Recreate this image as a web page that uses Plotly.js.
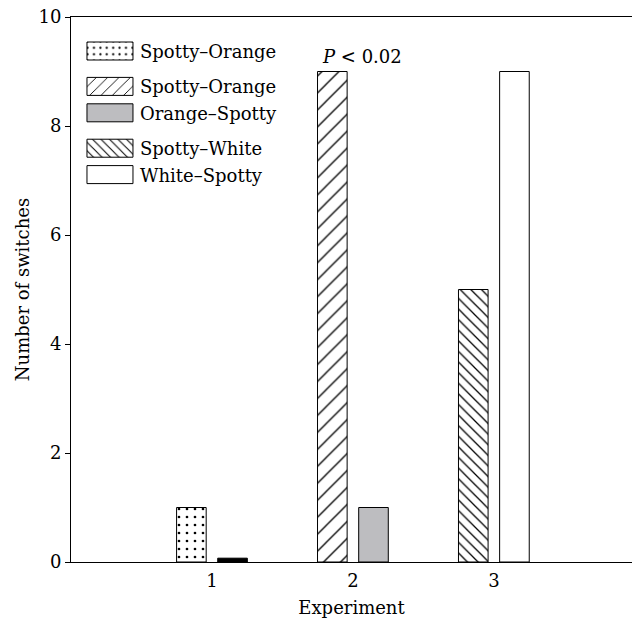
<!DOCTYPE html>
<html>
<head>
<meta charset="utf-8">
<script src="https://cdn.plot.ly/plotly-3.0.1.min.js"></script>
<style>
  html, body { margin: 0; padding: 0; background: #fff; }
  #chart { width: 632px; height: 623px; }
</style>
</head>
<body>
<div id="chart"></div>
<script>
// ---- data ----
const experiments = [1, 2, 3];
const tickLabels = ['1', '2', '3'];
const leftNames = ['Spotty–Orange', 'Spotty–Orange', 'Spotty–White'];
const leftValues = [1, 9, 5];
const rightNames = ['Orange–Spotty', 'Orange–Spotty', 'White–Spotty'];
const rightValues = [0.07, 1, 9];
const annotationText = '<i>P</i> &lt; 0.02';

// ---- styles ----
const FONT = 'DejaVu Serif, Liberation Serif, serif';
const FS = 18;
const BAR_W = 0.21;
const LEFT_OFF = -0.251;
const RIGHT_OFF = 0.041;
const lineStyle = { color: '#000', width: 1 };

function bar(x, y, name, offset, pattern, color, group, rank, showlegend) {
  return {
    type: 'bar', x: [x], y: [y], name: name,
    width: BAR_W, offset: offset,
    legendgroup: group, legendrank: rank, showlegend: showlegend,
    marker: { color: color, line: lineStyle, pattern: pattern },
    hoverinfo: 'none'
  };
}

const dots = { shape: '.', size: 8, solidity: 0.09, fgcolor: '#000', fgopacity: 1, bgcolor: '#fff', fillmode: 'overlay' };
const fwd = { shape: '/', size: 12, solidity: 0.11, fgcolor: '#000', fgopacity: 1, bgcolor: '#fff', fillmode: 'overlay' };
const back = { shape: '\\', size: 7.5, solidity: 0.17, fgcolor: '#000', fgopacity: 1, bgcolor: '#fff', fillmode: 'overlay' };
const none = { shape: '' };

const data = [
  bar(experiments[0], leftValues[0], leftNames[0], LEFT_OFF, dots, '#fff', 'g1', 1, true),
  bar(experiments[1], leftValues[1], leftNames[1], LEFT_OFF, fwd, '#fff', 'g2', 2, true),
  bar(experiments[1], rightValues[1], rightNames[1], RIGHT_OFF, none, '#bdbdc0', 'g2', 3, true),
  bar(experiments[2], leftValues[2], leftNames[2], LEFT_OFF, back, '#fff', 'g3', 4, true),
  bar(experiments[2], rightValues[2], rightNames[2], RIGHT_OFF, none, '#fff', 'g3', 5, true),
  bar(experiments[0], rightValues[0], rightNames[0], RIGHT_OFF, none, '#000', 'g1', 6, false)
];

const layout = {
  width: 632, height: 623,
  margin: { l: 71, r: 0, t: 17, b: 61 },
  paper_bgcolor: '#fff', plot_bgcolor: '#fff',
  font: { family: FONT, size: FS, color: '#000' },
  showlegend: true,
  barmode: 'overlay',
  xaxis: {
    range: [0, 3.98],
    tickmode: 'array', tickvals: experiments, ticktext: tickLabels,
    ticks: '', ticklabelstandoff: 2,
    showline: true, mirror: true, linecolor: '#000', linewidth: 1,
    showgrid: false, zeroline: false,
    tickfont: { family: FONT, size: FS },
    title: { text: 'Experiment', font: { family: FONT, size: FS }, standoff: 11 }
  },
  yaxis: {
    range: [0, 10],
    tickvals: [0, 2, 4, 6, 8, 10],
    ticks: 'outside', ticklen: 5, tickwidth: 1, tickcolor: '#000',
    showline: true, mirror: false, linecolor: '#000', linewidth: 1,
    showgrid: false, zeroline: false,
    tickfont: { family: FONT, size: FS },
    title: { text: 'Number of switches', font: { family: FONT, size: FS }, standoff: 4 }
  },
  legend: {
    x: 0.016, xanchor: 'left', y: 0.971, yanchor: 'top',
    bgcolor: 'rgba(0,0,0,0)', borderwidth: 0,
    traceorder: 'grouped', tracegroupgap: 9,
    itemwidth: 50,
    font: { family: FONT, size: FS }
  },
  annotations: [{
    x: experiments[1], y: leftValues[1], xref: 'x', yref: 'y',
    text: annotationText, showarrow: false,
    xanchor: 'left', yanchor: 'bottom', xshift: -33, yshift: 3,
    font: { family: FONT, size: FS }
  }]
};

Plotly.newPlot('chart', data, layout, { staticPlot: true }).then(function (gd) {
  gd.querySelectorAll('.legend .legendpoints path').forEach(function (p) {
    p.setAttribute('d', 'M23,9H-23V-9H23Z');
  });
});
</script>
</body>
</html>
